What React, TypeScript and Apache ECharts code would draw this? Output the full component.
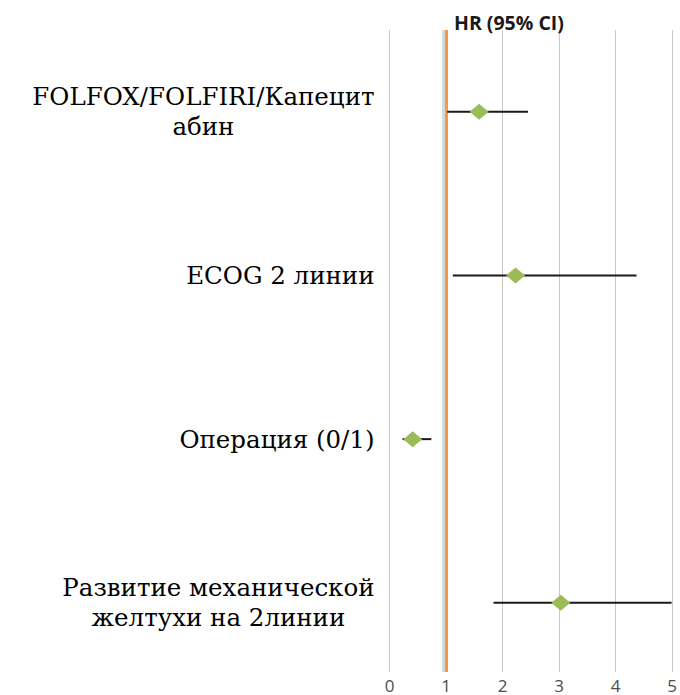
import React, { useEffect, useRef } from "react";
import * as echarts from "echarts";

const categories = [
  ["Развитие механической", "желтухи на 2линии"],
  ["Операция (0/1)"],
  ["ECOG 2 линии"],
  ["FOLFOX/FOLFIRI/Капецит", "абин"],
];
const rowPos = [0.5, 1.5, 2.5, 3.5];
const hr = [3.03, 0.41, 2.23, 1.585];
const ciLow = [1.84, 0.23, 1.12, 1.02];
const ciHigh = [4.99, 0.74, 4.37, 2.45];
const xTicks = [0, 1, 2, 3, 4, 5];
const refLine = 1;
const yMin = 0.077;
const yMax = 4;

export default function App() {
  const ref = useRef<HTMLDivElement>(null);
  useEffect(() => {
    if (!ref.current) return;
    const chart = echarts.init(ref.current, null, { renderer: "svg" });
    const labelMap: Record<string, string[]> = {};
    rowPos.forEach((p, i) => (labelMap[p.toFixed(1)] = categories[i]));
    chart.setOption({
      animation: false,
      backgroundColor: "#ffffff",
      title: {
        text: "HR (95% CI)",
        left: 449,
        top: 7,
        textStyle: { fontFamily: "Open Sans", fontWeight: "bold", fontSize: 19.5, color: "#1a1a1a" },
      },
      grid: { left: 389.5, right: 5, top: 30, bottom: 23, containLabel: false },
      xAxis: {
        type: "value",
        min: xTicks[0],
        max: xTicks[xTicks.length - 1],
        interval: 1,
        axisLine: { show: false },
        axisTick: { show: false },
        splitLine: { show: true, lineStyle: { color: "#c8c8c8", width: 1 } },
        axisLabel: {
          color: "#4d4d4d",
          fontFamily: "Open Sans",
          fontSize: 17,
          lineHeight: 15,
          margin: 6,
          showMaxLabel: true,
        },
      },
      yAxis: {
        type: "value",
        min: yMin,
        max: yMax,
        axisLine: { show: false },
        axisTick: { show: false },
        splitLine: { show: false },
        axisLabel: {
          show: true,
          customValues: rowPos,
          align: "right",
          margin: 15,
          formatter: (v: number) => {
            const lines = labelMap[Number(v).toFixed(1)] || [];
            return lines.map((l) => `{c|${l}}`).join("\n");
          },
          rich: {
            c: {
              align: "center",
              fontFamily: "DejaVu Serif",
              fontSize: 24.5,
              lineHeight: 30,
              color: "#000000",
            },
          },
        },
      },
      series: [
        {
          type: "custom",
          name: "ref",
          silent: true,
          z: 2,
          encode: { x: 0, y: [1, 2] },
          data: [[refLine, yMin, yMax]],
          renderItem: (params: any, api: any) => {
            const a = api.coord([api.value(0), api.value(1)]);
            const b = api.coord([api.value(0), api.value(2)]);
            return {
              type: "group",
              children: [
                {
                  type: "line",
                  shape: { x1: a[0] - 2.5, y1: a[1], x2: b[0] - 2.5, y2: b[1] },
                  style: { stroke: "rgba(0,0,0,0.16)", lineWidth: 3 },
                },
                {
                  type: "line",
                  shape: { x1: a[0] + 0.5, y1: a[1], x2: b[0] + 0.5, y2: b[1] },
                  style: { stroke: "#F79646", lineWidth: 3 },
                },
              ],
            };
          },
        },
        {
          type: "custom",
          name: "ci",
          renderItem: (params: any, api: any) => {
            const p1 = api.coord([api.value(0), api.value(2)]);
            const p2 = api.coord([api.value(1), api.value(2)]);
            return {
              type: "line",
              shape: { x1: p1[0], y1: p1[1], x2: p2[0], y2: p2[1] },
              style: { stroke: "#1a1a1a", lineWidth: 2 },
            };
          },
          encode: { x: [0, 1], y: 2 },
          data: rowPos.map((p, i) => [ciLow[i], ciHigh[i], p]),
          z: 3,
          silent: true,
        },
        {
          type: "scatter",
          name: "hr",
          symbol: "diamond",
          symbolSize: [19, 16],
          itemStyle: { color: "#9BBB59", opacity: 1 },
          data: rowPos.map((p, i) => [hr[i], p]),
          z: 4,
        },
      ],
    });
    return () => chart.dispose();
  }, []);
  return (
    <div
      ref={ref}
      style={{ position: "fixed", left: 0, top: 0, width: 680, height: 695, background: "#fff" }}
    />
  );
}
